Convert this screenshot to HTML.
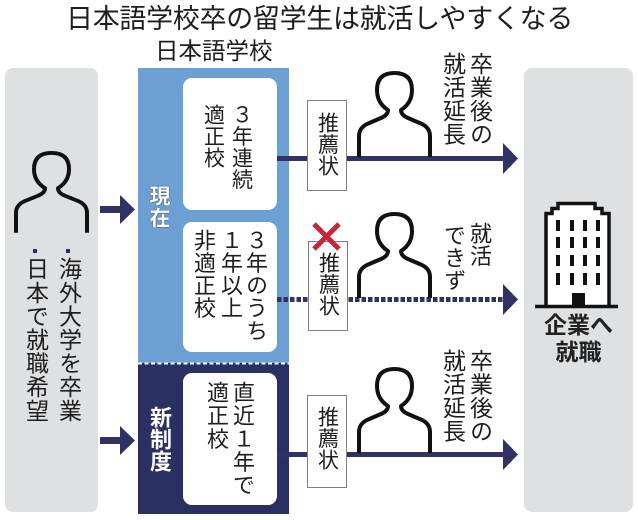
<!DOCTYPE html>
<html><head><meta charset="utf-8">
<style>
html,body{margin:0;padding:0;background:#fff;}
#c{position:relative;width:638px;height:520px;overflow:hidden;background:#fff;}
svg{position:absolute;left:0;top:0;}
.t{position:absolute;font-family:"Liberation Sans","Noto Sans CJK JP",sans-serif;color:#1e1e1e;line-height:1;white-space:nowrap;}
.v{position:absolute;writing-mode:vertical-rl;font-family:"Liberation Sans","Noto Sans CJK JP",sans-serif;color:#1e1e1e;line-height:1;white-space:nowrap;}
</style></head><body><div id="c">
<svg width="638" height="520" viewBox="0 0 638 520">
  <!-- gray boxes -->
  <rect x="5" y="68" width="93" height="444" rx="8" fill="#dfe0e2"/>
  <rect x="524" y="68" width="109" height="444" rx="8" fill="#dfe0e2"/>
  <!-- school -->
  <rect x="138" y="68" width="151" height="295" fill="#6c9fd3"/>
  <rect x="138" y="363" width="151" height="151" fill="#2a3162"/>
  <line x1="138" y1="363.5" x2="289" y2="363.5" stroke="#fff" stroke-width="2" stroke-dasharray="4 2.5"/>
  <rect x="183" y="78" width="94" height="132" rx="9" fill="#fff"/>
  <rect x="183" y="222" width="94" height="130" rx="9" fill="#fff"/>
  <rect x="183" y="373" width="94" height="132" rx="9" fill="#fff"/>
  <!-- left arrows -->
  <g fill="#2f3262">
    <rect x="100" y="206" width="21" height="7"/>
    <polygon points="120,195 135,209.5 120,224"/>
    <rect x="100" y="437" width="21" height="7"/>
    <polygon points="120,426 135,440.5 120,455"/>
  </g>
  <!-- lines -->
  <g stroke="#2f3262" stroke-width="5" fill="none">
    <line x1="277" y1="158.5" x2="505" y2="158.5"/>
    <line x1="277" y1="299.5" x2="505" y2="299.5" stroke-dasharray="4.5 2"/>
    <line x1="277" y1="454.5" x2="505" y2="454.5"/>
  </g>
  <g fill="#2f3262">
    <polygon points="503,143 518,158.5 503,174"/>
    <polygon points="503,284 518,299.5 503,315"/>
    <polygon points="503,439 518,454.5 503,470"/>
  </g>
  <!-- recommendation boxes -->
  <g fill="#fff" stroke="#808080" stroke-width="1">
    <rect x="307.5" y="100.5" width="39" height="90"/>
    <rect x="308.5" y="241.5" width="39" height="89"/>
    <rect x="307.5" y="395.5" width="39" height="92"/>
  </g>
  <!-- red X -->
  <g stroke="#c4263a" stroke-width="5" stroke-linecap="butt">
    <line x1="314" y1="224" x2="339" y2="249"/>
    <line x1="339" y1="224" x2="314" y2="249"/>
  </g>
  <!-- persons -->
  <g fill="none" stroke="#111" stroke-width="4" stroke-linejoin="round">
    <path id="p" d="M2 85 V64 Q2 56 10 52 L24 46 Q31 43 31 38 Q20 31 20 18 Q20 1 37.5 1 Q55 1 55 18 Q55 31 44 38 Q44 43 51 46 L65 52 Q73 56 73 64 V85" transform="translate(357,72)"/>
    <path d="M2 85 V64 Q2 56 10 52 L24 46 Q31 43 31 38 Q20 31 20 18 Q20 1 37.5 1 Q55 1 55 18 Q55 31 44 38 Q44 43 51 46 L65 52 Q73 56 73 64 V85" transform="translate(357,213)"/>
    <path d="M2 85 V64 Q2 56 10 52 L24 46 Q31 43 31 38 Q20 31 20 18 Q20 1 37.5 1 Q55 1 55 18 Q55 31 44 38 Q44 43 51 46 L65 52 Q73 56 73 64 V85" transform="translate(357,368)"/>
    <path d="M2 85 V64 Q2 56 10 52 L24 46 Q31 43 31 38 Q20 31 20 18 Q20 1 37.5 1 Q55 1 55 18 Q55 31 44 38 Q44 43 51 46 L65 52 Q73 56 73 64 V85" transform="translate(14,152) scale(1,0.95)"/>
  </g>
  <!-- bullets -->
  <rect x="33" y="249" width="4" height="4" fill="#2a3162"/>
  <rect x="66" y="249" width="4" height="4" fill="#2a3162"/>
  <!-- building -->
  <path d="M546 306 V213.5 H552 V208.5 H558 V203.5 H595 V208.5 H602 V213.5 H609 V306" fill="#fff" stroke="#111" stroke-width="3.5"/>
  <g fill="#111">
    <rect x="556" y="220" width="4" height="11"/><rect x="570" y="220" width="4" height="11"/><rect x="583" y="220" width="4" height="11"/><rect x="596" y="220" width="4" height="11"/>
    <rect x="556" y="237" width="4" height="11"/><rect x="570" y="237" width="4" height="11"/><rect x="583" y="237" width="4" height="11"/><rect x="596" y="237" width="4" height="11"/>
    <rect x="556" y="255" width="4" height="11"/><rect x="570" y="255" width="4" height="11"/><rect x="583" y="255" width="4" height="11"/><rect x="596" y="255" width="4" height="11"/>
    <rect x="556" y="273" width="4" height="12"/><rect x="570" y="273" width="4" height="12"/><rect x="583" y="273" width="4" height="12"/><rect x="596" y="273" width="4" height="12"/>
    <rect x="572" y="293" width="13" height="14"/>
  </g>
  <line x1="535" y1="306.5" x2="618" y2="306.5" stroke="#111" stroke-width="3.5"/>
</svg>

<!-- titles -->
<div class="t" style="left:66px;top:6px;font-size:27px;letter-spacing:-0.3px;">日本語学校卒の留学生は就活しやすくなる</div>
<div class="t" style="left:155px;top:40px;font-size:23.5px;">日本語学校</div>

<!-- left box text -->
<div class="v" style="left:56.5px;top:257px;font-size:23px;letter-spacing:0.6px;">海外大学を卒業</div>
<div class="v" style="left:23.5px;top:257px;font-size:23px;letter-spacing:0.6px;">日本で就職希望</div>

<!-- labels -->
<div class="v" style="left:148px;top:185px;font-size:21px;font-weight:bold;color:#fff;letter-spacing:1px;text-shadow:0 0 1px #2a3162,0 0 1px #2a3162;">現在</div>
<div class="v" style="left:148px;top:406px;font-size:22px;font-weight:bold;color:#fff;letter-spacing:0px;">新制度</div>

<!-- box 1 -->
<div class="v" style="left:230.5px;top:104px;font-size:21px;letter-spacing:0.5px;">３年連続</div>
<div class="v" style="left:202.5px;top:104px;font-size:21px;letter-spacing:0.5px;">適正校</div>
<!-- box 2 -->
<div class="v" style="left:244px;top:229px;font-size:22px;letter-spacing:0.6px;">３年のうち</div>
<div class="v" style="left:219px;top:229px;font-size:22px;letter-spacing:0.6px;">１年以上</div>
<div class="v" style="left:192px;top:229px;font-size:22px;letter-spacing:0.6px;">非適正校</div>
<!-- box 3 -->
<div class="v" style="left:231px;top:381px;font-size:22px;letter-spacing:1.2px;">直近１年で</div>
<div class="v" style="left:205px;top:381px;font-size:22px;letter-spacing:1.2px;">適正校</div>

<!-- recommendation -->
<div class="v" style="left:316.5px;top:112px;font-size:21px;letter-spacing:0.5px;">推薦状</div>
<div class="v" style="left:317.5px;top:252px;font-size:21px;letter-spacing:0.5px;">推薦状</div>
<div class="v" style="left:316.5px;top:406px;font-size:21px;letter-spacing:0.5px;">推薦状</div>

<!-- person texts -->
<div class="v" style="left:467.5px;top:52px;font-size:23px;letter-spacing:0.5px;">卒業後の</div>
<div class="v" style="left:440.5px;top:52px;font-size:23px;letter-spacing:0.5px;">就活延長</div>
<div class="v" style="left:468px;top:222px;font-size:22px;letter-spacing:0.5px;">就活</div>
<div class="v" style="left:442px;top:224px;font-size:22px;letter-spacing:0.5px;">できず</div>
<div class="v" style="left:467.5px;top:349px;font-size:23px;letter-spacing:0.5px;">卒業後の</div>
<div class="v" style="left:440.5px;top:349px;font-size:23px;letter-spacing:0.5px;">就活延長</div>

<!-- company -->
<div class="t" style="left:524px;width:109px;top:312px;font-size:23px;line-height:27px;font-weight:bold;text-align:center;color:#222;">企業へ<br>就職</div>
</div></body></html>
